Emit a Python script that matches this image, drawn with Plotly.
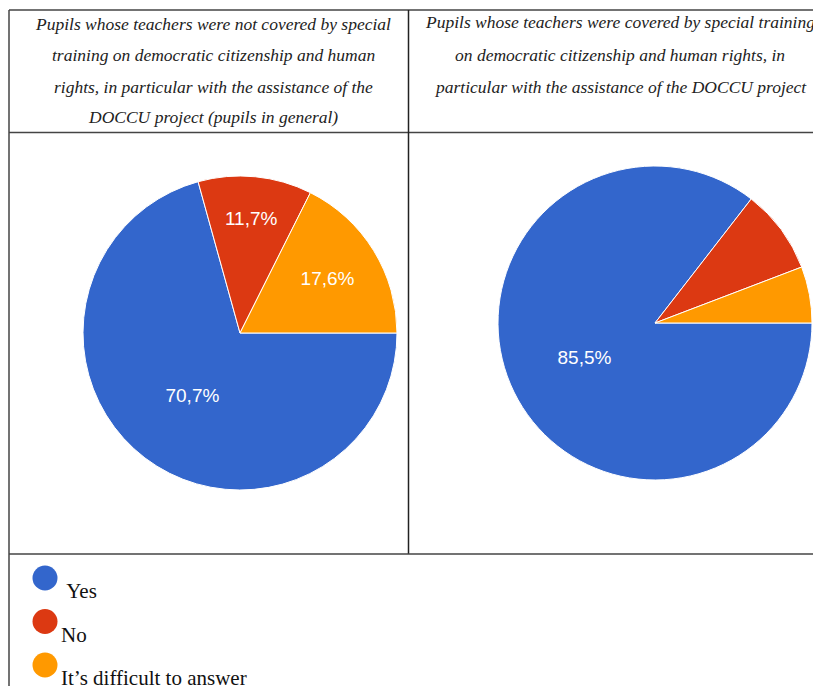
import plotly.graph_objects as go

# ---- data ----
categories = ["Yes", "No", "It\u2019s difficult to answer"]
values_not_trained = [70.7, 11.7, 17.6]
values_trained = [85.5, 8.7, 5.8]
colors = ["#3366CC", "#DC3912", "#FF9900"]

header_left = [
    "Pupils whose teachers were not covered by special",
    "training on democratic citizenship and human",
    "rights, in particular with the assistance of the",
    "DOCCU project (pupils in general)",
]
header_right = [
    "Pupils whose teachers were covered by special training",
    "on democratic citizenship and human rights, in",
    "particular with the assistance of the DOCCU project",
]

LABEL_THRESHOLD = 10  # slices below this share show no label


def fmt(v):
    return (f"{v:.1f}".replace(".", ",") + "%") if v >= LABEL_THRESHOLD else ""


W, H = 821, 686
OFF = 8  # page body margin


def px_x(x):
    return (x - OFF) / W


def px_y(y):
    return 1 - (y - OFF) / H


fig = go.Figure()

pie_common = dict(
    labels=categories,
    sort=False,
    direction="clockwise",
    rotation=90,
    marker=dict(colors=colors, line=dict(color="white", width=1)),
    textinfo="text",
    textposition="inside",
    insidetextorientation="horizontal",
    textfont=dict(family="Liberation Sans, Arial", size=19, color="white"),
    hoverinfo="label+percent",
    showlegend=False,
)

fig.add_trace(go.Pie(
    values=values_not_trained,
    text=[fmt(v) for v in values_not_trained],
    domain=dict(x=[px_x(83), px_x(397)], y=[px_y(490), px_y(176)]),
    **pie_common,
))
fig.add_trace(go.Pie(
    values=values_trained,
    text=[fmt(v) for v in values_trained],
    domain=dict(x=[px_x(498), px_x(812)], y=[px_y(480), px_y(166)]),
    **pie_common,
))

# legend drawn as scatter markers on a small categorical axis
fig.add_trace(go.Scatter(
    x=[0] * len(categories),
    y=categories,
    mode="markers",
    marker=dict(size=25, color=colors),
    hoverinfo="skip",
    showlegend=False,
    xaxis="x", yaxis="y",
))

# category 0 at y=578px, category 2 at y=665px  (43.5 px per category)
y_top_px = 578 - 0.5 * 43.5
y_bot_px = H + OFF
y_range_bottom = -0.5 + (y_bot_px - y_top_px) / 43.5
fig.update_layout(
    xaxis=dict(domain=[px_x(8), px_x(82)], range=[-1, 1], visible=False, fixedrange=True),
    yaxis=dict(domain=[0, px_y(y_top_px)], range=[y_range_bottom, -0.5], type="category",
               categoryorder="array", categoryarray=categories,
               visible=False, fixedrange=True),
)

annotations = []
legend_text = ["\u00a0" + categories[0], categories[1], categories[2]]
for cat, txt in zip(categories, legend_text):
    annotations.append(dict(
        x=0, y=cat, xref="x", yref="y", text=txt, showarrow=False,
        xanchor="left", yanchor="middle", xshift=14, yshift=-13,
        font=dict(family="Liberation Serif, Times New Roman", size=21, color="#111111"),
    ))

header_font = dict(family="Liberation Serif, Times New Roman", size=17.5, color="#222222")
left_ys = [24, 55, 87, 117]
for txt, y in zip(header_left, left_ys):
    annotations.append(dict(
        x=px_x(213), y=px_y(y), xref="paper", yref="paper", text="<i>" + txt + "</i>",
        showarrow=False, xanchor="center", yanchor="middle", font=header_font,
    ))
right_ys = [22, 55, 87]
for txt, y in zip(header_right, right_ys):
    annotations.append(dict(
        x=px_x(620), y=px_y(y), xref="paper", yref="paper", text="<i>" + txt + "</i>",
        showarrow=False, xanchor="center", yanchor="middle", font=header_font,
    ))

line_style = dict(color="#444444", width=1.5)
shapes = [
    dict(type="line", xref="paper", yref="paper", x0=px_x(9), x1=1.02, y0=px_y(10), y1=px_y(10), line=line_style),
    dict(type="line", xref="paper", yref="paper", x0=px_x(9), x1=px_x(9), y0=px_y(10), y1=-0.02, line=line_style),
    dict(type="line", xref="paper", yref="paper", x0=px_x(9), x1=1.02, y0=px_y(132.5), y1=px_y(132.5), line=line_style),
    dict(type="line", xref="paper", yref="paper", x0=px_x(408.5), x1=px_x(408.5), y0=px_y(10), y1=px_y(554), line=dict(color="#222222", width=1.5)),
    dict(type="line", xref="paper", yref="paper", x0=px_x(9), x1=1.02, y0=px_y(554), y1=px_y(554), line=line_style),
]

fig.update_layout(
    width=W, height=H,
    margin=dict(l=0, r=0, t=0, b=0),
    paper_bgcolor="white",
    plot_bgcolor="white",
    annotations=annotations,
    shapes=shapes,
)

fig.write_html("out.html")
